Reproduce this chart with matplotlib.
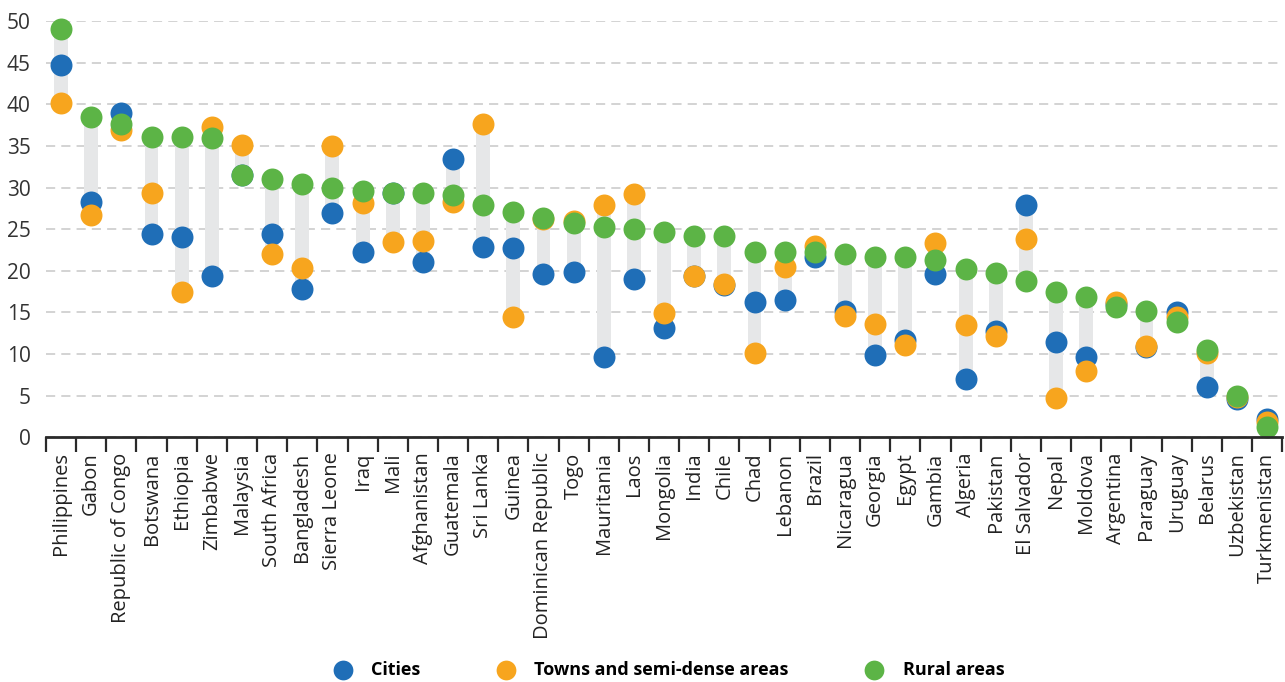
import matplotlib
matplotlib.use("Agg")
import matplotlib.pyplot as plt
import numpy as np

plt.rcParams['font.family'] = ['Open Sans', 'DejaVu Sans']

countries = ["Philippines", "Gabon", "Republic of Congo", "Botswana", "Ethiopia", "Zimbabwe",
             "Malaysia", "South Africa", "Bangladesh", "Sierra Leone", "Iraq", "Mali",
             "Afghanistan", "Guatemala", "Sri Lanka", "Guinea", "Dominican Republic", "Togo",
             "Mauritania", "Laos", "Mongolia", "India", "Chile", "Chad", "Lebanon", "Brazil",
             "Nicaragua", "Georgia", "Egypt", "Gambia", "Algeria", "Pakistan", "El Salvador",
             "Nepal", "Moldova", "Argentina", "Paraguay", "Uruguay", "Belarus", "Uzbekistan",
             "Turkmenistan"]

cities = [44.7, 28.3, 38.9, 24.4, 24.0, 19.4, 31.5, 24.4, 17.8, 27.0, 22.3, 29.4,
          21.0, 33.4, 22.9, 22.7, 19.6, 19.8, 9.6, 19.0, 13.1, 19.4, 18.3, 16.3, 16.5, 21.6,
          15.2, 9.9, 11.7, 19.6, 7.0, 12.8, 27.9, 11.4, 9.6, 16.0, 10.8, 15.1, 6.0, 4.6, 2.2]
towns = [40.2, 26.7, 36.9, 29.4, 17.4, 37.3, 35.1, 22.0, 20.3, 35.0, 28.1, 23.4,
         23.6, 28.3, 37.6, 14.5, 26.2, 26.0, 27.9, 29.2, 14.9, 19.4, 18.4, 10.1, 20.4, 23.0,
         14.6, 13.6, 11.1, 23.3, 13.5, 12.1, 23.8, 4.7, 8.0, 16.3, 11.0, 14.4, 10.1, 4.8, 1.8]
rural = [49.0, 38.5, 37.6, 36.1, 36.1, 35.9, 31.5, 31.0, 30.4, 30.0, 29.6, 29.4,
         29.3, 29.1, 27.9, 27.1, 26.4, 25.7, 25.3, 25.0, 24.6, 24.2, 24.2, 22.2, 22.2, 22.2,
         22.0, 21.6, 21.6, 21.3, 20.2, 19.7, 18.8, 17.5, 16.9, 15.7, 15.2, 13.9, 10.5, 5.0, 1.2]

blue = "#1f6eb7"
orange = "#f7a51e"
green = "#5cb446"

fig = plt.figure(figsize=(12.85, 6.82), dpi=100)
ax = fig.add_axes([0.0358, 0.359, 0.962, 0.610])

x = np.arange(len(countries))
allv = np.array([cities, towns, rural])
lo = allv.min(axis=0)
hi = allv.max(axis=0)
ax.bar(x, hi - lo, bottom=lo, width=0.46, color="#e6e7e8", zorder=2)

ms = 250
ax.scatter(x, cities, s=ms, color=blue, zorder=3, clip_on=False, linewidths=0, label="Cities")
ax.scatter(x, towns, s=ms, color=orange, zorder=4, clip_on=False, linewidths=0,
           label="Towns and semi-dense areas")
ax.scatter(x, rural, s=ms, color=green, zorder=5, clip_on=False, linewidths=0, label="Rural areas")

ax.set_xlim(-0.5, len(countries) - 0.5)
ax.set_ylim(0, 50)
ax.set_yticks(range(0, 51, 5))
ax.yaxis.grid(True, linestyle=(0, (6, 4)), color="#c8c8c8", linewidth=1.1, zorder=0)
ax.set_axisbelow(True)

ax.set_xticks(x)
ax.set_xticklabels(countries, rotation=90, fontsize=14.5, color="#222222")
ax.set_xticks(np.arange(-0.5, len(countries), 1), minor=True)
ax.tick_params(axis="x", which="major", length=0, pad=11)
ax.tick_params(axis="x", which="minor", length=11, width=1.6, color="#2a2a2a")
ax.tick_params(axis="y", length=0, labelsize=15, labelcolor="#333333", pad=11)

for s in ["top", "right", "left"]:
    ax.spines[s].set_visible(False)
ax.spines["bottom"].set_linewidth(2)
ax.spines["bottom"].set_color("#2a2a2a")
ax.spines["bottom"].set_zorder(6)

fig.legend(loc="center", bbox_to_anchor=(0.517, 0.018), ncol=3, frameon=False,
           prop={"weight": "bold", "size": 13}, columnspacing=3.7, handletextpad=0.6,
           scatterpoints=1, markerscale=0.9)

fig.savefig("out.png", dpi=100)
